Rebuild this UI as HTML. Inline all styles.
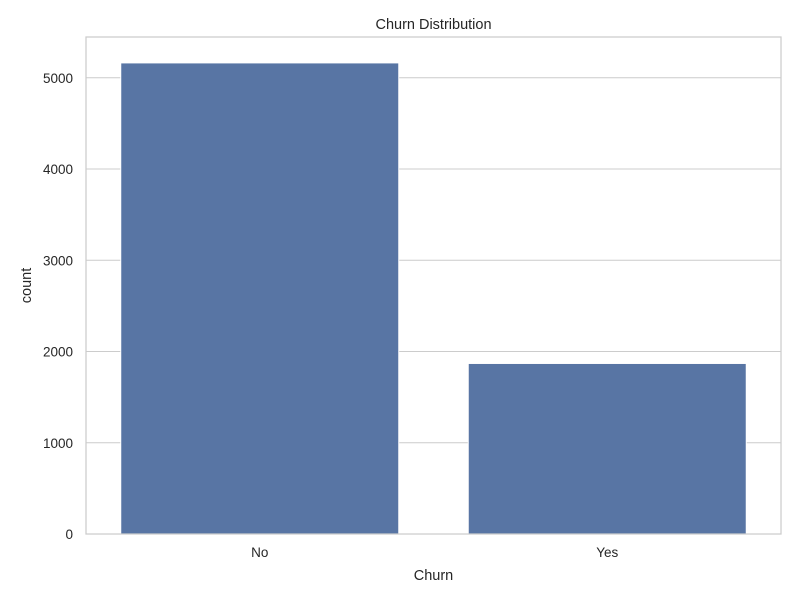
<!DOCTYPE html>
<html><head><meta charset="utf-8"><style>
body{margin:0;background:#fff;}
svg text{font-family:"Liberation Sans","DejaVu Sans",sans-serif;fill:#262626;}
</style></head><body>
<svg id="chart" width="800" height="600">
<rect width="800" height="600" fill="#fff"/>
<g id="grid"></g>
<g id="bars"></g>
<rect x="86" y="37" width="695" height="497" fill="none" stroke="#cccccc" stroke-width="1.25"/>
<g id="yticks"></g>
<g id="xticks"></g>
<text x="433.5" y="29" text-anchor="middle" font-size="14.5">Churn Distribution</text>
<text x="433.5" y="580" text-anchor="middle" font-size="14.5">Churn</text>
<text transform="translate(31,285.5) rotate(-90)" text-anchor="middle" font-size="14.5">count</text>
</svg>
<script>
const categories = ["No", "Yes"];
const counts = [5163, 1869];
const yTicks = [0, 1000, 2000, 3000, 4000, 5000];

const L = 86, R = 781, T = 37, B = 534;
const yMax = Math.max(...counts) * 1.055;
const y = v => B - (v / yMax) * (B - T);
const band = (R - L) / categories.length;
const xc = i => L + band * (i + 0.5);
const NS = "http://www.w3.org/2000/svg";
function mk(tag, attrs, parent) {
  const e = document.createElementNS(NS, tag);
  for (const k in attrs) e.setAttribute(k, attrs[k]);
  document.getElementById(parent).appendChild(e);
  return e;
}
yTicks.forEach(t => {
  const g = mk("line", {x1: L, x2: R, y1: y(t), y2: y(t), stroke: "#cccccc", "stroke-width": 1}, "grid");
  
  
  const tx = mk("text", {x: L - 13, y: y(t) + 5, "text-anchor": "end", "font-size": 13.5}, "yticks");
  tx.textContent = t;
  
  
});
categories.forEach((c, i) => {
  const w = band * 0.8;
  const b = mk("rect", {x: xc(i) - w / 2, y: y(counts[i]), width: w, height: B - y(counts[i]), fill: "#5875a4", stroke: "#ffffff", "stroke-width": 1}, "bars");
  
  
  const tx = mk("text", {x: xc(i), y: B + 23, "text-anchor": "middle", "font-size": 13.5}, "xticks");
  tx.textContent = c;
  
  
});
</script>
</body></html>
